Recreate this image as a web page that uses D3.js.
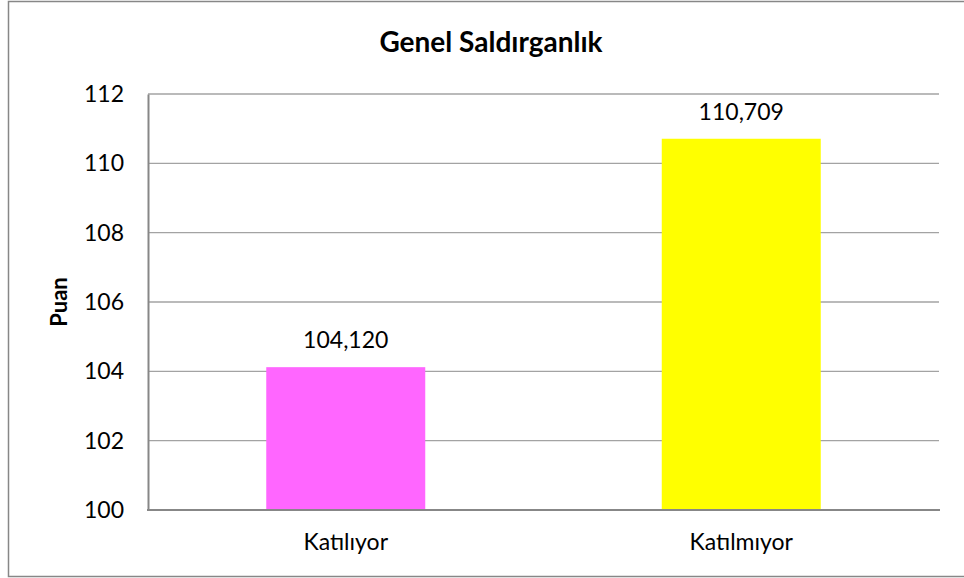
<!DOCTYPE html>
<meta charset="utf-8">
<style>
    body { margin: 0; background: #fff; }
    text { font-family: Lato, "Open Sans", sans-serif; fill: #000; }
    .tick text { font-size: 23px; }
    .title { font-size: 28px; font-weight: bold; text-anchor: middle; }
    .ylabel { font-size: 22px; font-weight: bold; text-anchor: middle; }
    .value { font-size: 23px; text-anchor: middle; }
</style>
<script src="https://d3js.org/d3.v7.min.js"></script>
<body>
<div id="chart"></div>
<script>
var categories = ["Katılıyor", "Katılmıyor"];
var values = [104.120, 110.709];
var valueLabels = ["104,120", "110,709"];
var barColors = ["#ff66ff", "#ffff00"];
var yTicks = [100, 102, 104, 106, 108, 110, 112];

var width = 964, height = 578;
var plotLeft = 148, plotRight = 939, plotTop = 94, plotBottom = 510;

var svg = d3.select("#chart").append("svg")
    .attr("width", width)
    .attr("height", height);

// outer chart border
svg.append("rect")
    .attr("x", 8.5).attr("y", 1.5)
    .attr("width", 975).attr("height", 575)
    .attr("fill", "#fff")
    .attr("stroke", "#878787")
    .attr("stroke-width", 1.5);

var y = d3.scaleLinear().domain([100, 112]).range([plotBottom, plotTop]);
var x = d3.scaleBand().domain(categories).range([plotLeft, plotRight])
    .paddingInner(0.598).paddingOuter(0.299);

// gridlines
svg.append("g")
    .selectAll("line")
    .data(yTicks.slice(1))
    .enter().append("line")
    .attr("x1", plotLeft).attr("x2", plotRight)
    .attr("y1", function (d) { return y(d); })
    .attr("y2", function (d) { return y(d); })
    .attr("stroke", "#a3a3a3")
    .attr("stroke-width", 1.3);

// bars
svg.append("g")
    .selectAll("rect")
    .data(values)
    .enter().append("rect")
    .attr("x", function (d, i) { return x(categories[i]); })
    .attr("width", x.bandwidth())
    .attr("y", function (d) { return y(d); })
    .attr("height", function (d) { return y(100) - y(d); })
    .attr("fill", function (d, i) { return barColors[i]; });

// value labels
svg.append("g")
    .selectAll("text")
    .data(values)
    .enter().append("text")
    .attr("class", "value")
    .attr("x", function (d, i) { return x(categories[i]) + x.bandwidth() / 2; })
    .attr("y", function (d) { return y(d) - 19; })
    .text(function (d, i) { return valueLabels[i]; });

// y axis
var yAxis = svg.append("g")
    .attr("transform", "translate(" + plotLeft + ",0)")
    .call(d3.axisLeft(y).tickValues(yTicks).tickSize(0).tickPadding(24).tickFormat(d3.format("d")));
yAxis.select(".domain").attr("stroke", "#878787").attr("stroke-width", 2);

// x axis
var xAxis = svg.append("g")
    .attr("transform", "translate(0," + plotBottom + ")")
    .call(d3.axisBottom(x).tickSize(0).tickPadding(24));
xAxis.select(".domain").attr("stroke", "#878787").attr("stroke-width", 2)
    .attr("d", "M" + (plotLeft - 1) + ",0H" + (plotRight + 1));

svg.append("text")
    .attr("class", "title")
    .attr("x", 491).attr("y", 52)
    .text("Genel Saldırganlık");

svg.append("text")
    .attr("class", "ylabel")
    .attr("transform", "translate(67," + 302 + ") rotate(-90)")
    .text("Puan");
</script>
